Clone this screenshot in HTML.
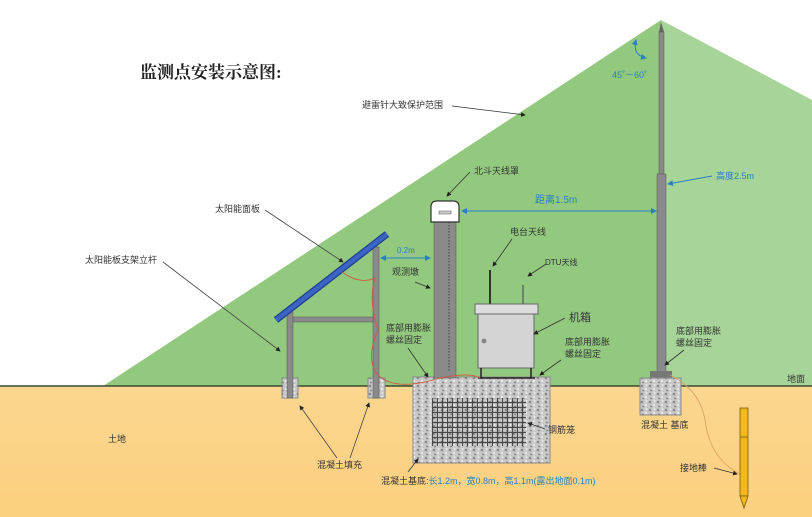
<!DOCTYPE html>
<html><head><meta charset="utf-8"><style>
html,body{margin:0;padding:0;background:#fff;}
svg{display:block;}
text{font-family:"Liberation Sans","Noto Sans CJK SC",sans-serif;font-size:9px;fill:#333;}
.b{fill:#2a7fc0;}
</style></head><body>
<svg width="812" height="517" viewBox="0 0 812 517" xmlns="http://www.w3.org/2000/svg">
<defs>
<linearGradient id="soil" x1="0" y1="0" x2="0" y2="1"><stop offset="0" stop-color="#fbd690"/><stop offset="1" stop-color="#fbd07e"/></linearGradient>
<pattern id="conc" width="8" height="8" patternUnits="userSpaceOnUse">
<rect width="8" height="8" fill="#c8c8c8"/><circle cx="2" cy="2" r="1.3" fill="#888"/><circle cx="6" cy="5" r="1.1" fill="#eee"/><circle cx="3" cy="6.5" r="0.9" fill="#777"/><circle cx="6.5" cy="1" r="0.8" fill="#fff"/></pattern>
<pattern id="reb" width="5" height="5" patternUnits="userSpaceOnUse"><rect width="5" height="5" fill="none"/><path d="M0 2.5H5M2.5 0V5" stroke="#333" stroke-width="1.2"/></pattern>
<marker id="ar" markerWidth="6" markerHeight="6" refX="5" refY="3" orient="auto"><path d="M0,0L6,3L0,6z" fill="#222"/></marker>
<marker id="ab" markerWidth="6" markerHeight="6" refX="5" refY="3" orient="auto"><path d="M0,0L6,3L0,6z" fill="#2a7fc0"/></marker>
<marker id="abs" markerWidth="6" markerHeight="6" refX="1" refY="3" orient="auto"><path d="M6,0L0,3L6,6z" fill="#2a7fc0"/></marker>
</defs>
<rect x="0" y="386" width="812" height="131" fill="url(#soil)"/>
<polygon points="103,386 661,20 661,386" fill="#92c97f"/>
<polygon points="661,20 812,100 812,386 661,386" fill="#a7d498"/>
<line x1="0" y1="386" x2="812" y2="386" stroke="#3a4a30" stroke-width="1.5"/>
<text x="140" y="78" style="font-family:'Liberation Serif','Noto Serif CJK SC',serif;font-size:17px;font-weight:bold;fill:#222">监测点安装示意图:</text>
<text x="362" y="108">避雷针大致保护范围</text>
<line x1="452" y1="106" x2="525" y2="115" stroke="#333" stroke-width="0.8" marker-end="url(#ar)"/>
<!-- lightning rod -->
<polygon points="661,22 659,32 664,32" fill="#666"/>
<rect x="659" y="32" width="5" height="142" fill="#8a8a8a" stroke="#555" stroke-width="0.5"/>
<rect x="657" y="174" width="9" height="198" fill="#8a8a8a" stroke="#555" stroke-width="0.5"/>
<rect x="650" y="371" width="22" height="8" fill="#777"/>
<rect x="640" y="378" width="41" height="37" fill="url(#conc)" stroke="#888"/>
<path d="M636 40 Q632 55 646 58" fill="none" stroke="#2a7fc0" marker-start="url(#abs)" marker-end="url(#ab)"/>
<text x="612" y="78" class="b">45˚－60˚</text>
<text x="716" y="179" class="b">高度2.5m</text>
<line x1="712" y1="176" x2="668" y2="184" stroke="#2a7fc0" marker-end="url(#ab)"/>
<text x="676" y="334">底部用膨胀</text><text x="676" y="346">螺丝固定</text>
<line x1="684" y1="350" x2="665" y2="365" stroke="#333" stroke-width="0.8" marker-end="url(#ar)"/>
<text x="787" y="382">地面</text>
<text x="641" y="428">混凝土 基底</text>
<!-- ground wire -->
<path d="M670 375 Q700 390 705 420 Q710 460 742 475" fill="none" stroke="#d8a060" stroke-width="0.8"/>
<rect x="740" y="408" width="8" height="88" fill="#f2b81c" stroke="#7a5a10" stroke-width="0.8"/>
<line x1="740" y1="437" x2="748" y2="437" stroke="#7a5a10" stroke-width="0.8"/>
<polygon points="740,496 748,496 744,508" fill="#f2b81c" stroke="#7a5a10" stroke-width="0.8"/>
<text x="680" y="471">接地棒</text>
<line x1="714" y1="468" x2="737" y2="474" stroke="#333" stroke-width="0.8" marker-end="url(#ar)"/>
<!-- large base -->
<rect x="413" y="377" width="137" height="86" fill="url(#conc)" stroke="#888"/>
<rect x="432" y="398" width="94" height="48" fill="url(#reb)" opacity="0.85"/>
<text x="548" y="433">钢筋笼</text>
<line x1="545" y1="429" x2="528" y2="423" stroke="#333" stroke-width="0.8" marker-end="url(#ar)"/>
<text x="381" y="484">混凝土基底:<tspan class="b">长1.2m，宽0.8m，高1.1m(露出地面0.1m)</tspan></text>
<line x1="408" y1="472" x2="418" y2="459" stroke="#333" stroke-width="0.8" marker-end="url(#ar)"/>
<!-- pier -->
<rect x="434" y="220" width="22" height="158" fill="#8a8a8a" stroke="#555" stroke-width="0.5"/>
<line x1="449" y1="222" x2="449" y2="372" stroke="#333" stroke-dasharray="1.5,1.5" stroke-width="0.8"/>
<path d="M431 222 V207 Q431 201 437 201 H453 Q459 201 459 207 V222 Z" fill="#fff" stroke="#333" stroke-width="1.2"/>
<rect x="439" y="211" width="12" height="3" fill="#ccc" stroke="#555" stroke-width="0.5"/>
<text x="474" y="174">北斗天线罩</text>
<line x1="470" y1="172" x2="447" y2="196" stroke="#333" stroke-width="0.8" marker-end="url(#ar)"/>
<line x1="462" y1="211" x2="656" y2="211" stroke="#2a7fc0" marker-start="url(#abs)" marker-end="url(#ab)"/>
<text x="535" y="203" class="b" style="font-size:10px">距离1.5m</text>
<line x1="381" y1="258" x2="430" y2="258" stroke="#2a7fc0" marker-start="url(#abs)" marker-end="url(#ab)"/>
<text x="397" y="253" class="b" style="font-size:8px">0.2m</text>
<text x="392" y="275">观测墩</text>
<line x1="415" y1="282" x2="430" y2="288" stroke="#333" stroke-width="0.8" marker-end="url(#ar)"/>
<text x="386" y="331">底部用膨胀</text><text x="386" y="343">螺丝固定</text>
<line x1="408" y1="348" x2="428" y2="377" stroke="#333" stroke-width="0.8" marker-end="url(#ar)"/>
<!-- cabinet -->
<line x1="490" y1="270" x2="490" y2="304" stroke="#333" stroke-width="2"/>
<line x1="523" y1="285" x2="523" y2="304" stroke="#555" stroke-width="1.2"/>
<rect x="475" y="304" width="63" height="10" fill="#ddd" stroke="#666"/>
<rect x="478" y="314" width="56" height="54" fill="#d4d4d4" stroke="#666"/>
<circle cx="484" cy="341" r="2.5" fill="#888"/>
<path d="M481 368 V378 M531 368 V378 M478 378 H535" stroke="#222" stroke-width="1.5"/>
<text x="510" y="235">电台天线</text>
<line x1="512" y1="239" x2="493" y2="266" stroke="#333" stroke-width="0.8" marker-end="url(#ar)"/>
<text x="545" y="265" style="font-size:8px">DTU天线</text>
<line x1="546" y1="264" x2="528" y2="276" stroke="#333" stroke-width="0.8" marker-end="url(#ar)"/>
<text x="569" y="321" style="font-size:11px">机箱</text>
<line x1="565" y1="318" x2="534" y2="334" stroke="#333" stroke-width="0.8" marker-end="url(#ar)"/>
<text x="565" y="345">底部用膨胀</text><text x="565" y="357">螺丝固定</text>
<line x1="561" y1="360" x2="540" y2="375" stroke="#333" stroke-width="0.8" marker-end="url(#ar)"/>
<!-- solar -->
<rect x="282" y="378" width="16" height="20" fill="url(#conc)" stroke="#888"/>
<rect x="368" y="378" width="17" height="20" fill="url(#conc)" stroke="#888"/>
<rect x="287" y="312" width="6" height="86" fill="#8a8a8a" stroke="#555" stroke-width="0.5"/>
<rect x="373" y="247" width="6" height="151" fill="#8a8a8a" stroke="#555" stroke-width="0.5"/>
<rect x="293" y="317" width="80" height="5" fill="#8a8a8a" stroke="#555" stroke-width="0.5"/>
<line x1="276" y1="320" x2="387" y2="234" stroke="#1f3f8f" stroke-width="7"/>
<line x1="276" y1="320" x2="387" y2="234" stroke="#3c64c4" stroke-width="4.5"/>
<path d="M342 272 Q360 285 375 278 Q368 300 378 330 Q365 360 378 375 Q395 392 440 378 Q470 372 480 378" fill="none" stroke="#d05a40" stroke-width="0.9"/>
<text x="215" y="212">太阳能面板</text>
<line x1="265" y1="210" x2="343" y2="262" stroke="#444" stroke-width="0.8" marker-end="url(#ar)"/>
<text x="85" y="263">太阳能板支架立杆</text>
<line x1="163" y1="262" x2="280" y2="351" stroke="#444" stroke-width="0.8" marker-end="url(#ar)"/>
<text x="317" y="468">混凝土填充</text>
<line x1="337" y1="458" x2="300" y2="406" stroke="#444" stroke-width="0.8" marker-end="url(#ar)"/>
<line x1="350" y1="458" x2="369" y2="403" stroke="#444" stroke-width="0.8" marker-end="url(#ar)"/>
<text x="108" y="442">土地</text>
</svg>
</body></html>
